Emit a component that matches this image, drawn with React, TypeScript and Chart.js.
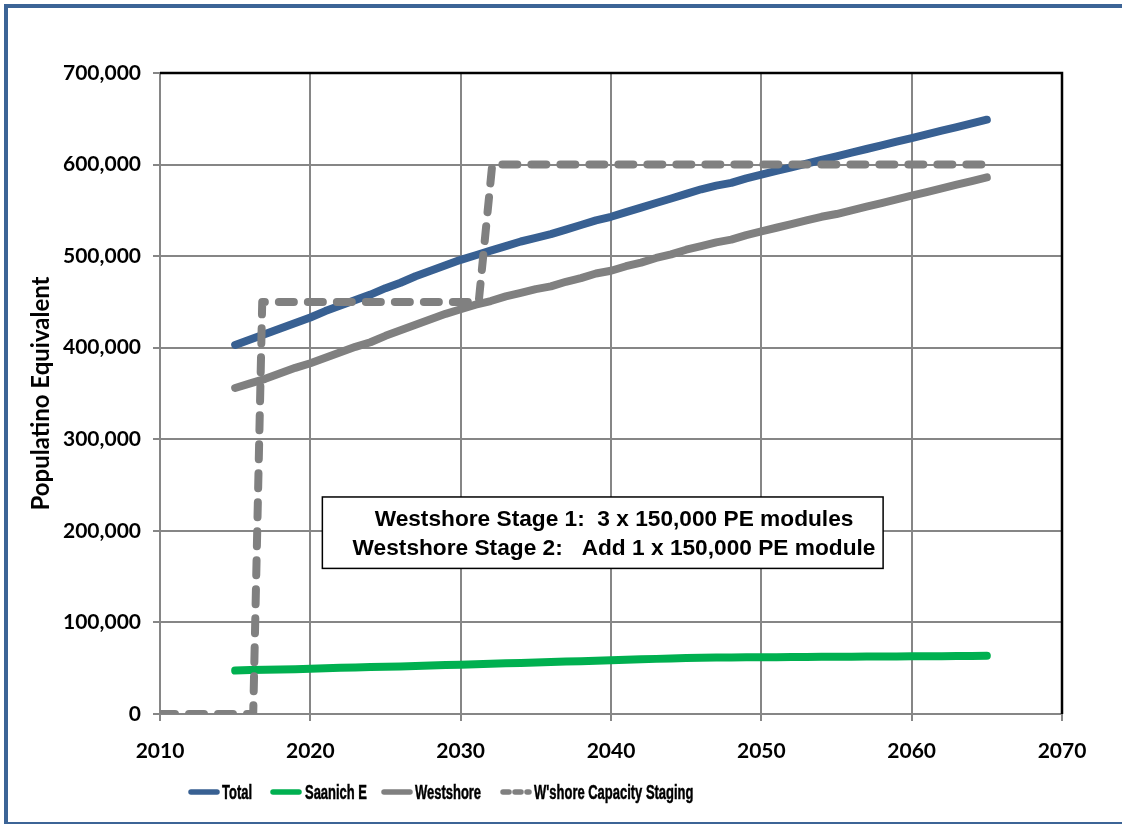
import React, { useEffect, useRef } from 'react';
import { Chart, registerables } from 'chart.js';

Chart.register(...registerables);

// ---- data ----
const years = [
  2015, 2016, 2017, 2018, 2019, 2020, 2021, 2022, 2023, 2024,
  2025, 2026, 2027, 2028, 2029, 2030, 2031, 2032, 2033, 2034,
  2035, 2036, 2037, 2038, 2039, 2040, 2041, 2042, 2043, 2044,
  2045, 2046, 2047, 2048, 2049, 2050, 2051, 2052, 2053, 2054,
  2055, 2056, 2057, 2058, 2059, 2060, 2061, 2062, 2063, 2064, 2065,
];
const totalPE = [
  403000, 409000, 415000, 421000, 427000, 433000, 440000, 446000, 452000, 458000,
  465000, 471000, 478000, 484000, 490000, 496000, 501000, 506000, 511000, 516000,
  520000, 524000, 529000, 534000, 539000, 543000, 548000, 553000, 558000, 563000,
  568000, 573000, 577000, 580000, 585000, 589000, 593000, 597000, 601000, 605000,
  609000, 613000, 617000, 621000, 625000, 629000, 633000, 637000, 641000, 645000, 649000,
];
const saanichPE = [
  47500, 48000, 48300, 48600, 49000, 49500, 50000, 50400, 50800, 51200,
  51600, 52000, 52500, 53000, 53400, 53800, 54300, 54800, 55300, 55700,
  56200, 56700, 57200, 57700, 58200, 58700, 59200, 59700, 60200, 60700,
  61200, 61500, 61700, 61800, 61900, 62000, 62100, 62200, 62300, 62400,
  62500, 62600, 62700, 62800, 62900, 63000, 63100, 63200, 63300, 63400, 63500,
];
const westshorePE = [
  356000, 361000, 366000, 372000, 378000, 383000, 389000, 395000, 401000, 406000,
  413000, 419000, 425000, 431000, 437000, 442000, 447000, 451000, 456000, 460000,
  464000, 467000, 472000, 476000, 481000, 484000, 489000, 493000, 498000, 502000,
  507000, 511000, 515000, 518000, 523000, 527000, 531000, 535000, 539000, 543000,
  546000, 550000, 554000, 558000, 562000, 566000, 570000, 574000, 578000, 582000, 586000,
];
const stagingYears = [2010, 2016.2, 2016.8, 2031.2, 2032.1, 2065];
const stagingPE = [0, 0, 450000, 450000, 600000, 600000];

const xMin = 2010;
const xMax = 2070;
const xStep = 10;
const yMin = 0;
const yMax = 700000;
const yStep = 100000;

const seriesNames = ['Total', 'Saanich E', 'Westshore', "W'shore Capacity Staging"];
const seriesColors = ['#386092', '#00b050', '#808080', '#808080'];
const yTitle = 'Populatino Equivalent';

const noteLines = [
  'Westshore Stage 1:  3 x 150,000 PE modules',
  'Westshore Stage 2:   Add 1 x 150,000 PE module',
];
// annotation box extents in data units
const noteX = [2020.8, 2058.1];
const noteY = [159000, 237000];
const noteTextX = 2040.2;
const noteLineY = [212000, 181000];

// legend layout (pixel positions of swatches and labels)
const legendSwatchLeft = [188, 270, 381, 500];
const legendTextLeft = [222, 305, 415, 534];

const tickFont = { family: 'Lato', size: 21, weight: 'bold' as const };
const LINE_W = 8;

const frameBorderPlugin = {
  id: 'frameBorder',
  afterDraw(chart: any) {
    const { ctx, chartArea } = chart;
    ctx.save();
    ctx.strokeStyle = '#000';
    ctx.lineWidth = 2.5;
    ctx.beginPath();
    ctx.moveTo(chartArea.left, chartArea.top);
    ctx.lineTo(chartArea.right, chartArea.top);
    ctx.lineTo(chartArea.right, chartArea.bottom);
    ctx.stroke();
    ctx.restore();
  },
};

const notePlugin = {
  id: 'noteBox',
  afterDatasetsDraw(chart: any) {
    const { ctx, scales } = chart;
    const x0 = scales.x.getPixelForValue(noteX[0]);
    const x1 = scales.x.getPixelForValue(noteX[1]);
    const y0 = scales.y.getPixelForValue(noteY[1]);
    const y1 = scales.y.getPixelForValue(noteY[0]);
    ctx.save();
    ctx.fillStyle = '#fff';
    ctx.fillRect(x0, y0, x1 - x0, y1 - y0);
    ctx.strokeStyle = '#000';
    ctx.lineWidth = 1.5;
    ctx.strokeRect(x0, y0, x1 - x0, y1 - y0);
    ctx.fillStyle = '#000';
    ctx.font = 'bold 22.7px "Liberation Sans", Arial, sans-serif';
    ctx.textAlign = 'center';
    ctx.textBaseline = 'middle';
    const cx = scales.x.getPixelForValue(noteTextX);
    noteLines.forEach((t, i) => {
      ctx.fillText(t, cx, scales.y.getPixelForValue(noteLineY[i]));
    });
    ctx.restore();
  },
};

function LegendLine({ color, dashed }: { color: string; dashed?: boolean }) {
  return (
    <svg width={32} height={10} style={{ display: 'block' }}>
      <line
        x1={3}
        y1={5}
        x2={29}
        y2={5}
        stroke={color}
        strokeWidth={5.5}
        strokeLinecap="round"
        strokeDasharray={dashed ? '6 6' : undefined}
      />
    </svg>
  );
}

export default function App() {
  const canvasRef = useRef<HTMLCanvasElement | null>(null);

  useEffect(() => {
    document.body.style.margin = '0';
    const canvas = canvasRef.current;
    if (!canvas) return;
    const mk = (xs: number[], ys: number[]) => xs.map((x, i) => ({ x, y: ys[i] }));
    const base = {
      borderWidth: LINE_W,
      borderCapStyle: 'round' as const,
      borderJoinStyle: 'round' as const,
      pointRadius: 0,
      tension: 0,
    };
    const chart = new Chart(canvas, {
      type: 'line',
      data: {
        datasets: [
          {
            ...base,
            label: seriesNames[3],
            data: mk(stagingYears, stagingPE),
            borderColor: seriesColors[3],
            borderDash: [15, 14],
            order: 0,
          },
          { ...base, label: seriesNames[0], data: mk(years, totalPE), borderColor: seriesColors[0], order: 1 },
          { ...base, label: seriesNames[2], data: mk(years, westshorePE), borderColor: seriesColors[2], order: 2 },
          { ...base, label: seriesNames[1], data: mk(years, saanichPE), borderColor: seriesColors[1], order: 3 },
        ],
      },
      options: {
        responsive: false,
        animation: false,
        devicePixelRatio: 1,
        layout: { padding: { top: 73, right: 60, bottom: 0, left: 0 } },
        plugins: {
          legend: { display: false },
          tooltip: { enabled: false },
        },
        scales: {
          x: {
            type: 'linear',
            min: xMin,
            max: xMax,
            ticks: {
              stepSize: xStep,
              color: '#000',
              font: tickFont,
              padding: 18,
              callback: (v: any) => String(v),
            },
            grid: { color: '#868686', lineWidth: 2, tickLength: 7, tickColor: '#868686' },
            border: { color: '#868686', width: 2 },
            afterFit: (s: any) => {
              s.height = 111;
            },
          },
          y: {
            min: yMin,
            max: yMax,
            ticks: {
              stepSize: yStep,
              color: '#000',
              font: tickFont,
              padding: 12,
              callback: (v: any) => Number(v).toLocaleString('en-US'),
            },
            title: {
              display: true,
              text: yTitle,
              color: '#000',
              font: { family: 'Lato', size: 24, weight: 'bold' },
              padding: { top: 27, bottom: 0 },
            },
            grid: { color: '#868686', lineWidth: 2, tickLength: 7, tickColor: '#868686' },
            border: { color: '#868686', width: 2 },
            afterFit: (s: any) => {
              s.width = 160;
            },
          },
        },
      },
      plugins: [notePlugin, frameBorderPlugin],
    });
    return () => chart.destroy();
  }, []);

  const legendFont: React.CSSProperties = {
    position: 'absolute',
    top: 0,
    height: 24,
    lineHeight: '24px',
    fontFamily: '"Liberation Sans", Arial, sans-serif',
    fontWeight: 'bold',
    fontSize: 19.5,
    color: '#000',
    whiteSpace: 'pre',
    WebkitTextStroke: '0.5px #000',
    transform: 'scaleX(0.665)',
    transformOrigin: 'left center',
  };

  return (
    <div style={{ position: 'relative', width: 1122, height: 825, background: '#fff', overflow: 'hidden' }}>
      <canvas ref={canvasRef} width={1122} height={825} style={{ position: 'absolute', left: 0, top: 0 }} />
      {/* outer frame */}
      <div style={{ position: 'absolute', left: 4, top: 4, width: 1118, height: 4, background: '#3c6496' }} />
      <div style={{ position: 'absolute', left: 4, top: 4, width: 4, height: 819, background: '#3c6496' }} />
      <div style={{ position: 'absolute', left: 4, top: 822, width: 1118, height: 1.5, background: '#3c6496' }} />
      {/* legend */}
      <div style={{ position: 'absolute', left: 0, top: 780, width: 1122, height: 24 }}>
        {seriesNames.map((name, i) => (
          <React.Fragment key={name}>
            <div style={{ position: 'absolute', left: legendSwatchLeft[i], top: 7 }}>
              <LegendLine color={seriesColors[i]} dashed={i === 3} />
            </div>
            <span style={{ ...legendFont, left: legendTextLeft[i] }}>{name}</span>
          </React.Fragment>
        ))}
      </div>
    </div>
  );
}
